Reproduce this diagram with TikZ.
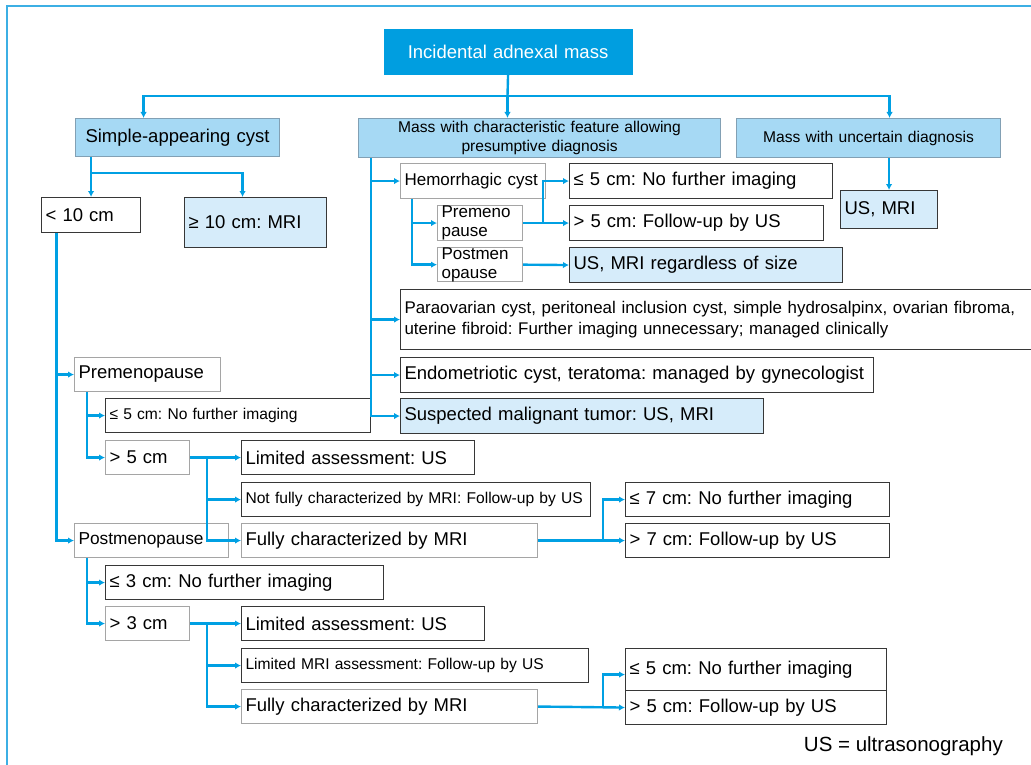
\documentclass[tikz,border=0pt]{standalone}
\usepackage{fontspec}
\setmainfont{Liberation Sans}
\usetikzlibrary{arrows.meta}
\frenchspacing
\definecolor{lineblue}{RGB}{0,160,227}
\definecolor{topfill}{RGB}{0,158,224}
\definecolor{headfill}{RGB}{166,217,244}
\definecolor{lightfill}{RGB}{214,236,250}
\definecolor{framec}{RGB}{60,175,228}
\definecolor{darkb}{RGB}{55,55,55}
\definecolor{greyb}{RGB}{165,165,165}
\definecolor{headb}{RGB}{130,160,180}
\newcommand\bx[7]{%
  \pgfmathsetmacro\bxw{#5-#3-8}%
  \pgfmathsetmacro\bxh{#6-#4}%
  \node[boxbase,#2,text width=\bxw pt,minimum height=\bxh pt] (#1) at (#3,#4) {#7};}
\begin{document}
\begin{tikzpicture}[x=1pt,y=-1pt,
  boxbase/.style={anchor=north west,inner xsep=4pt,inner ysep=0pt,line width=1.1pt,align=left,fill=white},
  dk/.style={draw=darkb},
  lg/.style={draw=greyb},
  headbox/.style={draw=headb,fill=headfill,align=center},
  lightbox/.style={fill=lightfill},
  topbox/.style={fill=topfill,text=white,align=center},
  fbig/.style={font=\fontsize{18.5}{22}\selectfont\frenchspacing},
  fhdr/.style={font=\fontsize{15.6}{19}\selectfont\frenchspacing},
  fmed/.style={font=\fontsize{16.9}{20.5}\selectfont\frenchspacing},
  fsm/.style={font=\fontsize{15.6}{19}\selectfont\frenchspacing},
  fhem/.style={font=\fontsize{17}{19}\selectfont\frenchspacing},
  fpost/.style={font=\fontsize{17.3}{20}\selectfont\frenchspacing},
  ln/.style={draw=lineblue,line width=2.4pt},
  arr/.style={ln,-{Latex[length=6pt,width=6.5pt]}}]
\useasboundingbox (0,0) rectangle (1031,765);
\clip (0,0) rectangle (1031,765);
\fill[white] (0,0) rectangle (1031,765);
\draw[framec,line width=2.2pt] (7,6) rectangle (1045,780);

% boxes
\bx{top}{topbox,fbig}{383}{28}{632}{74}{Incidental adnexal mass}
\bx{simple}{headbox,fbig}{75}{118}{279}{156}{Simple-appearing cyst}
\bx{midb}{headbox,fhdr}{358}{118}{720}{157}{Mass with characteristic feature allowing\\presumptive diagnosis}
\bx{unc}{headbox,fhdr}{736}{118}{1000}{157}{Mass with uncertain diagnosis}
\bx{usmri}{dk,lightbox,fbig}{840}{190}{937}{228}{US, MRI}
\bx{lt10}{dk,fbig}{41}{197}{140}{232}{< 10 cm}
\bx{ge10}{dk,lightbox,fbig}{184}{197}{326}{247}{≥ 10 cm: MRI}

\bx{hem}{lg,fhem}{400}{163}{545}{198}{Hemorrhagic cyst}
\bx{hle5}{dk,fbig}{569}{163}{832}{198}{≤ 5 cm: No further imaging}
\bx{premeno}{lg,fhem}{437}{205}{522}{240}{Premeno\\pause}
\bx{hgt5}{dk,fbig}{569}{205}{823}{240}{> 5 cm: Follow-up by US}
\bx{postmen}{lg,fhem}{437}{247}{522}{281}{Postmen\\opause}
\bx{usreg}{dk,lightbox,fbig}{569}{247}{842}{282}{US, MRI regardless of size}
\bx{para}{dk,fmed}{400}{289}{1040}{349}{Paraovarian cyst, peritoneal inclusion cyst, simple hydrosalpinx, ovarian fibroma,\\uterine fibroid: Further imaging unnecessary; managed clinically}
\bx{endo}{dk,fbig}{400}{357}{873}{392}{Endometriotic cyst, teratoma: managed by gynecologist}
\bx{susp}{dk,lightbox,fbig}{400}{398}{763}{433}{Suspected malignant tumor: US, MRI}

\bx{prem}{lg,fbig}{74}{357}{220}{391}{Premenopause}
\bx{le5s}{dk,fsm}{105}{398}{370}{432}{≤ 5 cm: No further imaging}
\bx{gt5}{lg,fbig}{105}{440}{189}{474}{> 5 cm}
\bx{la1}{dk,fbig}{241}{440}{474}{474}{Limited assessment: US}
\bx{nf1}{dk,fsm}{241}{482}{590}{516}{\mbox{Not fully characterized by MRI: Follow-up by US}}
\bx{fc1}{lg,fbig}{241}{523}{537}{557}{Fully characterized by MRI}
\bx{le7}{dk,fbig}{625}{482}{889}{516}{≤ 7 cm: No further imaging}
\bx{gt7}{dk,fbig}{625}{523}{889}{557}{> 7 cm: Follow-up by US}

\bx{postm}{lg,fpost}{74}{523}{228}{557}{Postmenopause}
\bx{le3}{dk,fbig}{105}{565}{383}{599}{≤ 3 cm: No further imaging}
\bx{gt3}{lg,fbig}{105}{606}{189}{640}{> 3 cm}
\bx{la2}{dk,fbig}{241}{606}{484}{640}{Limited assessment: US}
\bx{lm2}{dk,fsm}{241}{648}{588}{682}{Limited MRI assessment: Follow-up by US}
\bx{fc2}{lg,fbig}{241}{689}{537}{723}{Fully characterized by MRI}
\bx{le5b}{dk,fbig}{625}{648}{886}{690}{≤ 5 cm: No further imaging}
\bx{gt5b}{dk,fbig}{625}{690}{886}{724}{> 5 cm: Follow-up by US}

\node[anchor=east,font=\fontsize{20.5}{24}\selectfont,inner sep=0pt] (note) at (1003,746) {US = ultrasonography};

% junction coordinates
\coordinate (bus) at (507.5,96);
\coordinate (s1) at (90.5,173);
\coordinate (b1) at (207,457);
\coordinate (b2) at (603,540);
\coordinate (b3) at (207,623);
\coordinate (b4) at (603,707);
\coordinate (b5) at (543,222.5);

% connectors
\draw[ln] (top.south) -- (bus);
\draw[arr] (bus) -| ([xshift=-34pt]simple.north);
\draw[arr] (bus) -- (bus |- midb.north);
\draw[arr] (bus) -| ([xshift=21pt]unc.north);
\draw[arr] (usmri.north |- unc.south) -- (usmri.north);

\draw[arr] (lt10.north |- simple.south) -- (lt10.north);
\draw[arr] (s1) -| ([xshift=-13pt]ge10.north);

\draw[arr] ([xshift=-34.5pt]lt10.south) |- (prem.west);
\draw[arr] ([xshift=-34.5pt]lt10.south) |- (postm.west);

\draw[arr] ([xshift=13pt]prem.south west) |- (le5s.west);
\draw[arr] ([xshift=13pt]prem.south west) |- (gt5.west);
\draw[arr] (gt5.east) -- (la1.west);
\draw[arr] (b1) |- (nf1.west);
\draw[arr] (b1) |- (fc1.west);
\draw[arr] (fc1.east) -- (gt7.west);
\draw[arr] (b2) |- (le7.west);

\draw[arr] ([xshift=13pt]postm.south west) |- (le3.west);
\draw[arr] ([xshift=13pt]postm.south west) |- (gt3.west);
\draw[arr] (gt3.east) -- (la2.west);
\draw[arr] (b3) |- (lm2.west);
\draw[arr] (b3) |- (fc2.west);
\draw[arr] (fc2.east) -- (gt5b.west);
\draw[arr] (b4) |- ([yshift=-5pt]le5b.west);

\draw[arr] ([xshift=13pt]midb.south west) |- (hem.west);
\draw[arr] ([xshift=13pt]midb.south west) |- (para.west);
\draw[arr] ([xshift=13pt]midb.south west) |- (endo.west);
\draw[arr] ([xshift=13pt]midb.south west) |- (susp.west);

\draw[arr] ([xshift=12pt]hem.south west) |- (premeno.west);
\draw[arr] ([xshift=12pt]hem.south west) |- (postmen.west);
\draw[arr] (premeno.east) -- (hgt5.west);
\draw[arr] (b5) |- (hle5.west);
\draw[arr] (postmen.east) -- (usreg.west);
\end{tikzpicture}
\end{document}
